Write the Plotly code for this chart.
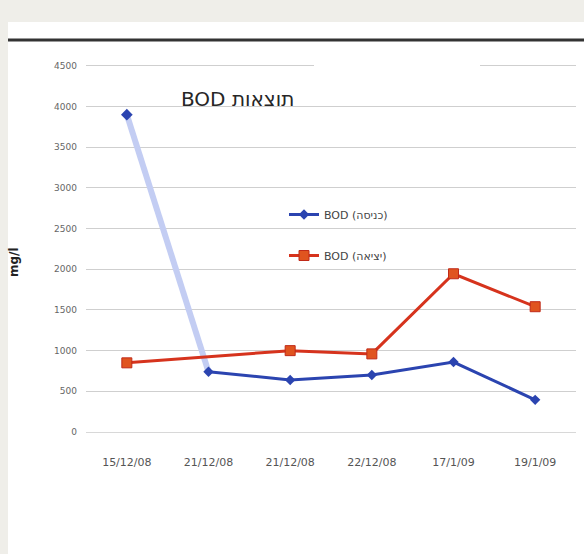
import plotly.graph_objects as go

# ---- data ----
dates = ["15/12/08", "21/12/08", "21/12/08", "22/12/08", "17/1/09", "19/1/09"]
x_pos = [0, 1, 2, 3, 4, 5]
bod_in = [3900, 740, 640, 700, 860, 395]
bod_out = [850, None, 1000, 960, 1945, 1540]
y_ticks = [0, 500, 1000, 1500, 2000, 2500, 3000, 3500, 4000, 4500]

title_text = "BOD תוצאות"
name_in = "BOD (כניסה)"
name_out = "BOD (יציאה)"

# layout geometry (pixels)
W, H = 584, 554
Y_TOP = 4560
L, R, B = 86, 8, 122
T = 432 - round(366 * Y_TOP / 4500)
pw, ph = W - L - R, H - T - B


def px(x):
    return (x - L) / pw


def py(y):
    return (H - B - y) / ph


fig = go.Figure()

# faded first segment of inflow series
fig.add_trace(go.Scatter(
    x=x_pos[:2], y=bod_in[:2], mode="lines",
    line=dict(color="#c3cdf3", width=6), showlegend=False, hoverinfo="skip"))

fig.add_trace(go.Scatter(
    x=x_pos[1:], y=bod_in[1:], mode="lines+markers", name=name_in,
    line=dict(color="#2b44b0", width=3),
    marker=dict(symbol="diamond", size=8, color="#2b44b0"),
    legendgroup="a"))

fig.add_trace(go.Scatter(
    x=x_pos[:1], y=bod_in[:1], mode="markers", showlegend=False,
    marker=dict(symbol="diamond", size=9, color="#2b44b0")))

fig.add_trace(go.Scatter(
    x=x_pos, y=bod_out, mode="lines+markers", name=name_out,
    connectgaps=True,
    line=dict(color="#d6331d", width=3),
    marker=dict(symbol="square", size=10, color="#e0541f",
                line=dict(color="#c02a18", width=1)),
    legendgroup="b"))

shapes = [
    # white sheet over gray page background
    dict(type="rect", xref="paper", yref="paper",
         x0=px(8), x1=px(W + 2), y0=py(H + 2), y1=py(22),
         fillcolor="white", line=dict(width=0), layer="below"),
    # dark frame line at top
    dict(type="line", xref="paper", yref="paper",
         x0=px(8), x1=px(W + 2), y0=py(40), y1=py(40),
         line=dict(color="#333333", width=3), layer="above"),
    # white patch next to the title
    dict(type="rect", xref="paper", yref="paper",
         x0=px(314), x1=px(480), y0=py(100), y1=py(55),
         fillcolor="white", line=dict(width=0), layer="above"),
]

annotations = [
    dict(text=title_text, xref="paper", yref="paper", x=px(237), y=py(99),
         showarrow=False, font=dict(size=20, color="#262626",
                                    family="DejaVu Sans"),
         xanchor="center", yanchor="middle"),
    dict(text="<b>mg/l</b>", xref="paper", yref="paper", x=px(14), y=py(262),
         showarrow=False, textangle=-90, font=dict(size=12, color="#222"),
         xanchor="center", yanchor="middle"),
]

fig.update_layout(
    width=W, height=H,
    margin=dict(l=L, r=R, t=T, b=B),
    paper_bgcolor="#efeee9",
    plot_bgcolor="rgba(0,0,0,0)",
    shapes=shapes,
    annotations=annotations,
    font=dict(family="DejaVu Sans", color="#555"),
    legend=dict(x=px(284), y=py(200), xanchor="left", yanchor="top",
                bgcolor="rgba(0,0,0,0)", font=dict(size=11, color="#444"),
                tracegroupgap=22, itemwidth=30),
    xaxis=dict(tickmode="array", tickvals=x_pos, ticktext=dates,
               range=[-0.5, 5.5], showgrid=False, zeroline=False,
               showline=True, linecolor="#d8d8d8", linewidth=1,
               ticks="", tickfont=dict(size=11, color="#555"),
               ticklabelstandoff=20),
    yaxis=dict(range=[0, Y_TOP], tickvals=y_ticks,
               showgrid=True, gridcolor="#cfcfcf", gridwidth=1,
               zeroline=False, showline=False, ticks="",
               tickfont=dict(size=9, color="#666"),
               ticklabelstandoff=8),
)

fig.write_html("out.html")
